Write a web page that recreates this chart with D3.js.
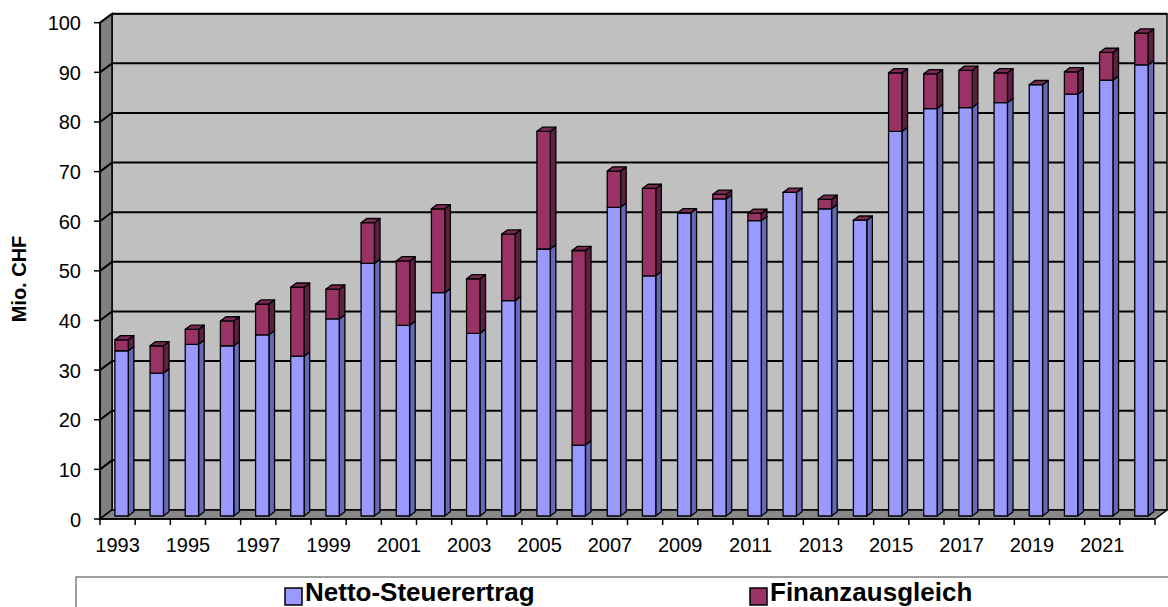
<!DOCTYPE html>
<html lang="de">
<head>
  <meta charset="UTF-8" />
  <title>Netto-Steuerertrag und Finanzausgleich</title>
  <script src="https://d3js.org/d3.v7.min.js"></script>
  <style>
    body { margin: 0; background: #fff; }
    svg { display: block; font-family: "Liberation Sans", Arial, sans-serif; }
  </style>
</head>
<body>
  <svg id="chart" width="1168" height="607"></svg>
  <script>
    const years = ["1993","1994","1995","1996","1997","1998","1999","2000","2001","2002",
                   "2003","2004","2005","2006","2007","2008","2009","2010","2011","2012",
                   "2013","2014","2015","2016","2017","2018","2019","2020","2021","2022"];
    const netto = [33.3, 28.8, 34.6, 34.3, 36.5, 32.2, 39.7, 50.9, 38.4, 45.0,
                   36.8, 43.4, 53.8, 14.3, 62.2, 48.4, 61.1, 63.9, 59.5, 65.2,
                   61.9, 59.6, 77.5, 82.1, 82.3, 83.3, 86.9, 85.0, 87.8, 90.9];
    const finanz = [2.2, 5.5, 3.0, 5.0, 6.2, 13.9, 6.0, 8.2, 13.0, 16.9,
                    11.0, 13.4, 23.7, 39.2, 7.3, 17.6, 0, 0.9, 1.5, 0,
                    1.9, 0, 11.8, 7.0, 7.5, 6.0, 0, 4.5, 5.6, 6.4];
    const yTicks = [0, 10, 20, 30, 40, 50, 60, 70, 80, 90, 100];
    const xLabels = ["1993","1995","1997","1999","2001","2003","2005","2007","2009",
                     "2011","2013","2015","2017","2019","2021"];
    const seriesNames = ["Netto-Steuerertrag", "Finanzausgleich"];

    const svg = d3.select("#chart");
    const plotLeft = 100, plotRight = 1155, plotBottom = 519, plotTop = 22.7;
    const depth = { dx: 12, dy: -9 };          // 3D Tiefe der Wände
    const barOff = { dx: 4, dy: -3 };          // Balken-Front innerhalb der Tiefe
    const barDepth = { dx: 5.6, dy: -4.2 };

    const x = d3.scaleBand().domain(years).range([plotLeft, plotRight])
      .paddingInner(0.62).paddingOuter(0.31);
    const y = d3.scaleLinear().domain([0, 100]).range([plotBottom, plotTop]);

    const colors = {
      blue:   { front: "#9999ff", side: "#6868b8", top: "#7a7ad6" },
      purple: { front: "#993366", side: "#5e1f40", top: "#7a2952" }
    };

    const poly = pts => pts.map(p => p.join(",")).join(" ");

    // Wände und Boden
    const bx0 = plotLeft + depth.dx, bx1 = plotRight + depth.dx;
    svg.append("polygon")
      .attr("points", poly([[bx0, y(100) + depth.dy], [bx1, y(100) + depth.dy], [bx1, y(0) + depth.dy], [bx0, y(0) + depth.dy]]))
      .attr("fill", "#c0c0c0").attr("stroke", "#000").attr("stroke-width", 1.5);

    svg.selectAll(".grid").data(yTicks.slice(1)).enter().append("line")
      .attr("class", "grid")
      .attr("x1", bx0).attr("x2", bx1)
      .attr("y1", d => y(d) + depth.dy).attr("y2", d => y(d) + depth.dy)
      .attr("stroke", "#000").attr("stroke-width", 2);

    svg.append("polygon")
      .attr("points", poly([[plotLeft, y(100)], [bx0, y(100) + depth.dy], [bx0, y(0) + depth.dy], [plotLeft, y(0)]]))
      .attr("fill", "#808080").attr("stroke", "#000").attr("stroke-width", 1.5);

    svg.selectAll(".sgrid").data(yTicks).enter().append("line")
      .attr("class", "sgrid")
      .attr("x1", plotLeft).attr("x2", bx0)
      .attr("y1", d => y(d)).attr("y2", d => y(d) + depth.dy)
      .attr("stroke", "#000").attr("stroke-width", 2);

    svg.append("polygon")
      .attr("points", poly([[plotLeft, y(0)], [plotRight, y(0)], [bx1, y(0) + depth.dy], [bx0, y(0) + depth.dy]]))
      .attr("fill", "#888888").attr("stroke", "#000").attr("stroke-width", 1.5);

    // Balken
    function drawSegment(g, x0, v0, v1, c, withTop) {
      const w = x.bandwidth();
      const fx0 = x0 + barOff.dx, fx1 = fx0 + w;
      const y0 = y(v0) + barOff.dy, y1 = y(v1) + barOff.dy;
      const add = (pts, fill) => g.append("polygon").attr("points", poly(pts)).attr("fill", fill)
        .attr("stroke", "#000").attr("stroke-width", 1.3).attr("stroke-linejoin", "round");
      add([[fx1, y0], [fx1 + barDepth.dx, y0 + barDepth.dy], [fx1 + barDepth.dx, y1 + barDepth.dy], [fx1, y1]], c.side);
      add([[fx0, y0], [fx1, y0], [fx1, y1], [fx0, y1]], c.front);
      if (withTop) {
        add([[fx0, y1], [fx1, y1], [fx1 + barDepth.dx, y1 + barDepth.dy], [fx0 + barDepth.dx, y1 + barDepth.dy]], c.top);
      }
    }

    const bars = svg.append("g");
    years.forEach((yr, i) => {
      const g = bars.append("g");
      drawSegment(g, x(yr), 0, netto[i], colors.blue, false);
      drawSegment(g, x(yr), netto[i], netto[i] + finanz[i], colors.purple, true);
    });

    // Achsen
    svg.append("line").attr("x1", plotLeft).attr("x2", plotLeft).attr("y1", y(100)).attr("y2", y(0))
      .attr("stroke", "#000").attr("stroke-width", 1.5);
    svg.append("line").attr("x1", plotLeft).attr("x2", plotRight).attr("y1", y(0)).attr("y2", y(0))
      .attr("stroke", "#000").attr("stroke-width", 1.5);

    svg.selectAll(".ytick").data(yTicks).enter().append("line")
      .attr("x1", plotLeft - 6).attr("x2", plotLeft)
      .attr("y1", d => y(d)).attr("y2", d => y(d))
      .attr("stroke", "#000").attr("stroke-width", 1.5);
    svg.selectAll(".ylab").data(yTicks).enter().append("text")
      .attr("x", 81).attr("y", d => y(d) + 7.5)
      .attr("text-anchor", "end").attr("font-size", 20)
      .text(d => d);

    const step = x.step();
    const xTickPos = years.map((d, i) => plotLeft + i * step).concat([plotRight]);
    svg.selectAll(".xtick").data(xTickPos).enter().append("line")
      .attr("x1", d => d).attr("x2", d => d)
      .attr("y1", plotBottom).attr("y2", plotBottom + 6)
      .attr("stroke", "#000").attr("stroke-width", 1.5);
    svg.selectAll(".xlab").data(xLabels).enter().append("text")
      .attr("x", d => x(d) + x.bandwidth() / 2)
      .attr("y", 552)
      .attr("text-anchor", "middle").attr("font-size", 20)
      .text(d => d);

    svg.append("text")
      .attr("transform", "translate(26,279) rotate(-90)")
      .attr("text-anchor", "middle").attr("font-size", 20).attr("font-weight", "bold")
      .text("Mio. CHF");

    // Legende
    svg.append("rect").attr("x", 76).attr("y", 577).attr("width", 1100).attr("height", 40)
      .attr("fill", "#fff").attr("stroke", "#808080").attr("stroke-width", 1.5);
    const legend = [
      { name: seriesNames[0], color: colors.blue.front, x: 285 },
      { name: seriesNames[1], color: colors.purple.front, x: 750 }
    ];
    const lg = svg.selectAll(".legend").data(legend).enter().append("g");
    lg.append("rect")
      .attr("x", d => d.x).attr("y", 588).attr("width", 17).attr("height", 17)
      .attr("fill", d => d.color).attr("stroke", "#000").attr("stroke-width", 1.5);
    lg.append("text")
      .attr("x", d => d.x + 20).attr("y", 601)
      .attr("font-size", 26).attr("font-weight", "bold")
      .text(d => d.name);
  </script>
</body>
</html>
